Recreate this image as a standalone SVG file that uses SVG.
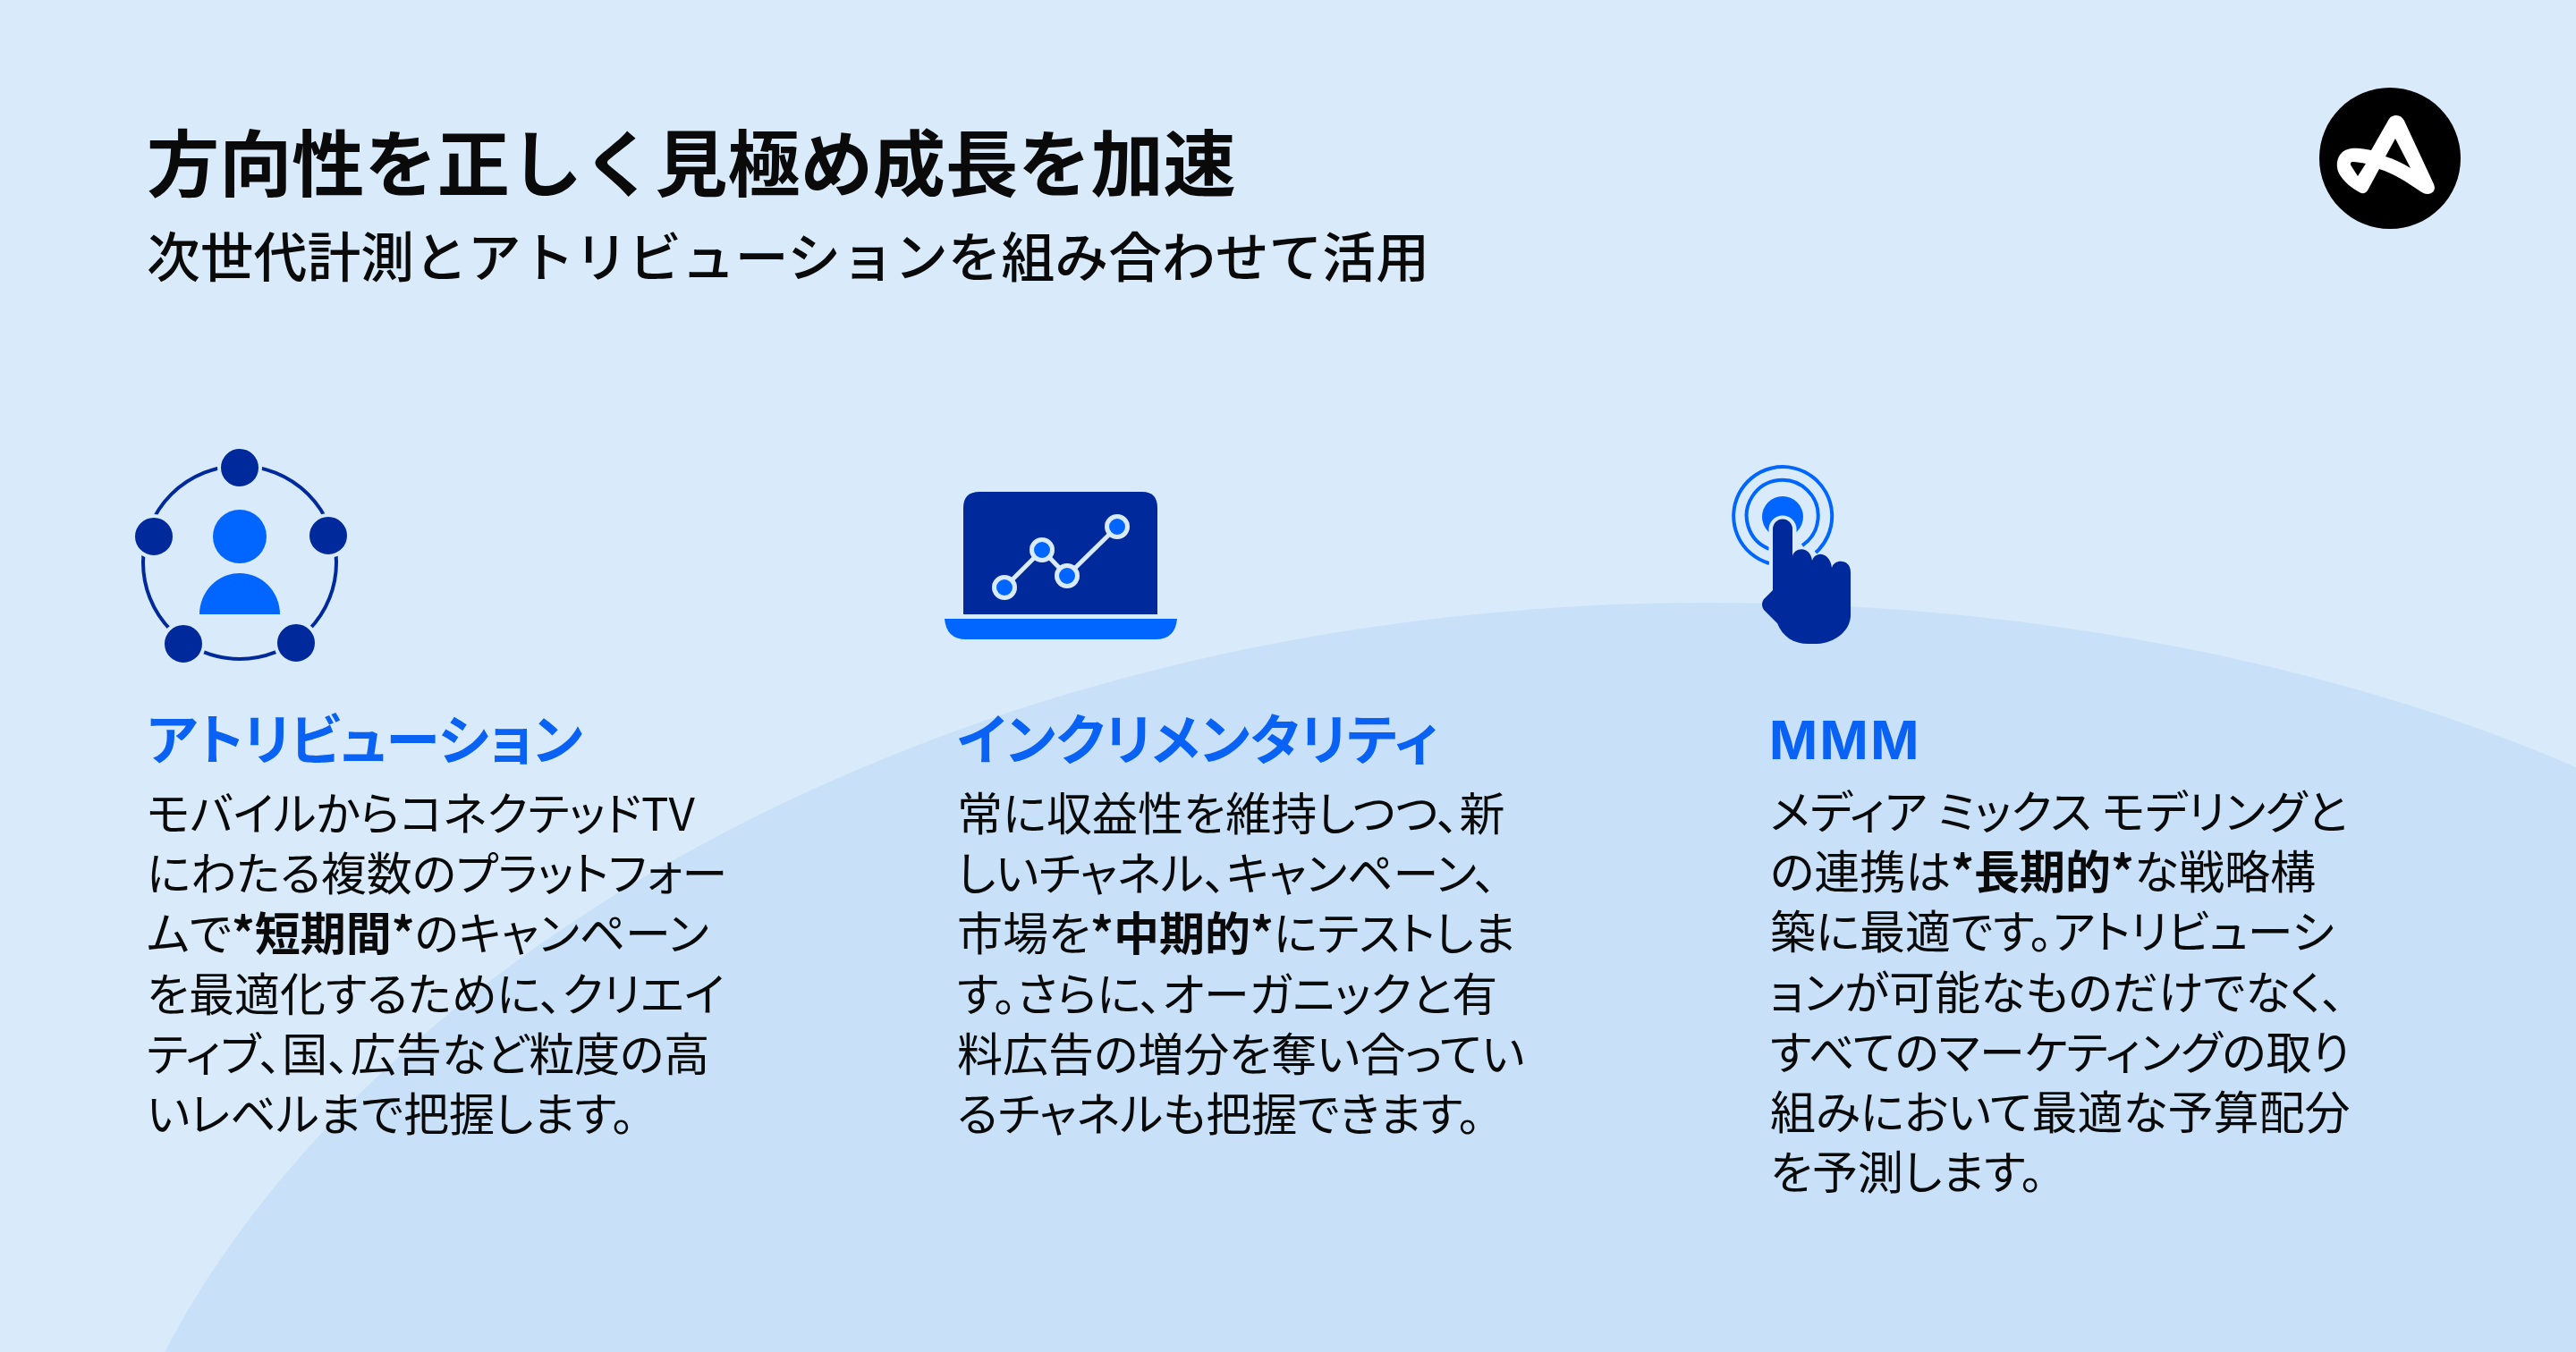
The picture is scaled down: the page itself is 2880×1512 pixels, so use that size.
<svg xmlns="http://www.w3.org/2000/svg" width="2880" height="1512" viewBox="0 0 2880 1512">
<style>
text{font-family:"Noto Sans CJK JP","Noto Sans",sans-serif;fill:#0a0a0a}
.t{font-size:81.200px;font-weight:700}
.s{font-size:59.800px;font-weight:500}
.h{font-size:61px;font-weight:700;fill:#0a62f5;font-feature-settings:"palt"}
.b{font-size:51px;font-weight:400;font-feature-settings:"palt"}
.b tspan.k{font-weight:700}
.d{fill:#00299c}
.l{fill:#0066ff}
</style>
<rect width="2880" height="1512" fill="#d9ebfa"/>
<path d="M184 1512C420 1060 1080 674 1910 674C2280 674 2620 745 2880 858V1512Z" fill="#c8e1f8"/>
<g id="header">
<text class="t" x="164" y="213">方向性を正しく見極め成長を加速</text>
<text class="s" x="164" y="310">次世代計測とアトリビューションを組み合わせて活用</text>
</g>
<g id="logo">
<circle cx="2672" cy="177" r="79" fill="#000"/>
<path fill-rule="evenodd" fill="#fff" d="M2679 129C2683 129 2686 131 2688 135L2721 206C2724 213 2719 217 2714 217C2711 217 2709 216 2706 214C2690 203 2676 194 2660 189L2647 213C2644 217 2641 217 2638 215C2630 211 2620 203 2615 194C2610 183 2614 172 2622 168C2630 164 2642 166 2651 168L2671 133C2673 130 2676 129 2679 129ZM2678 155L2667 175C2677 178 2687 183 2695 188ZM2631 181C2628 181 2627 183 2629 186L2636 197L2645 183C2640 182 2635 181 2631 181Z"/>
</g>
<g id="attribution">
<g id="icon-attribution" fill="none">
<circle cx="268" cy="629" r="108" stroke="#00299c" stroke-width="4" fill="none"/>
<g class="d" stroke="#d9ebfa" stroke-width="4">
<circle cx="268" cy="523" r="23"/><circle cx="172" cy="600" r="23"/><circle cx="367" cy="599" r="23"/><circle cx="205" cy="720" r="23"/><circle cx="331" cy="719" r="23"/>
</g>
<circle class="l" cx="268" cy="600" r="30"/>
<path class="l" d="M223 687A45 46 0 0 1 313 687Z"/>
</g>
<text class="h" x="164" y="850">アトリビューション</text>
<text class="b" y="929"><tspan x="164">モバイルからコネクテッドTV</tspan><tspan x="164" dy="67.200">にわたる複数のプラットフォー</tspan><tspan x="164" dy="67.200">ムで<tspan class="k">*短期間*</tspan>のキャンペーン</tspan><tspan x="164" dy="67.200">を最適化するために、クリエイ</tspan><tspan x="164" dy="67.200">ティブ、国、広告など粒度の高</tspan><tspan x="164" dy="67.200">いレベルまで把握します。</tspan></text>
</g>
<g id="incrementality">
<g id="icon-laptop">
<path class="d" d="M1077 687V568Q1077 550 1095 550H1277Q1294 550 1294 568V687Z"/>
<path class="l" d="M1056 692H1316Q1314 715 1292 715H1080Q1058 715 1056 692Z"/>
<path d="M1123 657L1165 615L1193 644L1249 589" stroke="#d9ebfa" stroke-width="5" fill="none"/>
<g class="l" stroke="#d9ebfa" stroke-width="5"><circle cx="1123" cy="657" r="11.500"/><circle cx="1165" cy="615" r="11.500"/><circle cx="1193" cy="644" r="11.500"/><circle cx="1249" cy="589" r="11.500"/></g>
</g>
<text class="h" x="1070" y="850">インクリメンタリティ</text>
<text class="b" y="929"><tspan x="1070">常に収益性を維持しつつ、新</tspan><tspan x="1070" dy="67.200">しいチャネル、キャンペーン、</tspan><tspan x="1070" dy="67.200">市場を<tspan class="k">*中期的*</tspan>にテストしま</tspan><tspan x="1070" dy="67.200">す。さらに、オーガニックと有</tspan><tspan x="1070" dy="67.200">料広告の増分を奪い合ってい</tspan><tspan x="1070" dy="67.200">るチャネルも把握できます。</tspan></text>
</g>
<g id="mmm">
<g id="icon-hand">
<path fill="none" stroke="#0066ff" stroke-width="4" d="M1978 630A55 55 0 1 1 2030 618M1978 614A40 40 0 1 1 2015 610"/>
<circle class="l" cx="1993" cy="578" r="23"/>
<path d="M1993 592V625" stroke="#d9ebfa" stroke-width="31" stroke-linecap="round" fill="none"/>
<path class="d" d="M1982 592A11 11.500 0 0 1 2004 592V622C2006 612 2024 610 2026 627C2029 616 2046 617 2048 635C2050 625 2069 624 2069 640V688C2069 706 2050 720 2030 720H2022C2005 720 1993 712 1987 697L1973 683C1969 679 1969 673 1973 669L1982 660Z"/>
</g>
<text class="h" transform="translate(1978 849) scale(0.985 1)" style="font-family:'Inter','Liberation Sans',sans-serif;font-size:59px;letter-spacing:2.500px">MMM</text>
<text class="b" y="927"><tspan x="1979">メディア ミックス モデリングと</tspan><tspan x="1979" dy="67.200">の連携は<tspan class="k">*長期的*</tspan>な戦略構</tspan><tspan x="1979" dy="67.200">築に最適です。アトリビューシ</tspan><tspan x="1979" dy="67.200">ョンが可能なものだけでなく、</tspan><tspan x="1979" dy="67.200">すべてのマーケティングの取り</tspan><tspan x="1979" dy="67.200">組みにおいて最適な予算配分</tspan><tspan x="1979" dy="67.200">を予測します。</tspan></text>
</g>
</svg>
